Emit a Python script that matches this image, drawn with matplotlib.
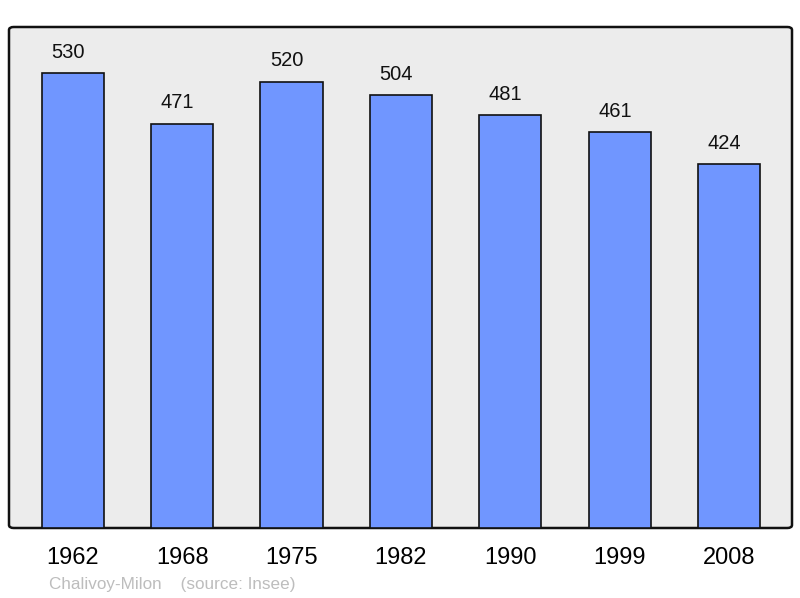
import matplotlib.pyplot as plt
from matplotlib.patches import FancyBboxPatch

years = ["1962", "1968", "1975", "1982", "1990", "1999", "2008"]
population = [530, 471, 520, 504, 481, 461, 424]

plt.rcParams["font.family"] = ["Liberation Sans", "DejaVu Sans"]

fig = plt.figure(figsize=(8, 5.98), dpi=100)
ax = fig.add_axes([9 / 800, 70 / 598, 783 / 800, 501 / 598])
ax.set_facecolor("none")

frame = FancyBboxPatch((0, 0), 1, 1, boxstyle="round,pad=0,rounding_size=0.006",
                       transform=ax.transAxes, facecolor="#ececec",
                       edgecolor="#111111", linewidth=1.8, zorder=0, clip_on=False)
ax.add_patch(frame)

x = range(len(years))
bars = ax.bar(x, population, width=0.57, color="#7096ff", edgecolor="#111111",
              linewidth=1.2, zorder=2)
for rect, val in zip(bars, population):
    ax.annotate(str(val), (rect.get_x() + rect.get_width() / 2, rect.get_height()),
                xytext=(-3.5, 8), textcoords="offset points", ha="center", va="bottom",
                fontsize=14.5, color="#111111")

ax.set_xlim(-0.585, 6.576)
ax.set_ylim(0, 583.5)
ax.set_xticks(list(x))
ax.set_xticklabels(years, fontsize=17)
ax.tick_params(axis="x", length=0, pad=14)
ax.set_yticks([])
for s in ax.spines.values():
    s.set_visible(False)

fig.text(49 / 800, 1 - 584 / 598, "Chalivoy-Milon    (source: Insee)",
         fontsize=12.3, color="#bdbdbd", ha="left", va="center")

fig.savefig("out.png", dpi=100)
